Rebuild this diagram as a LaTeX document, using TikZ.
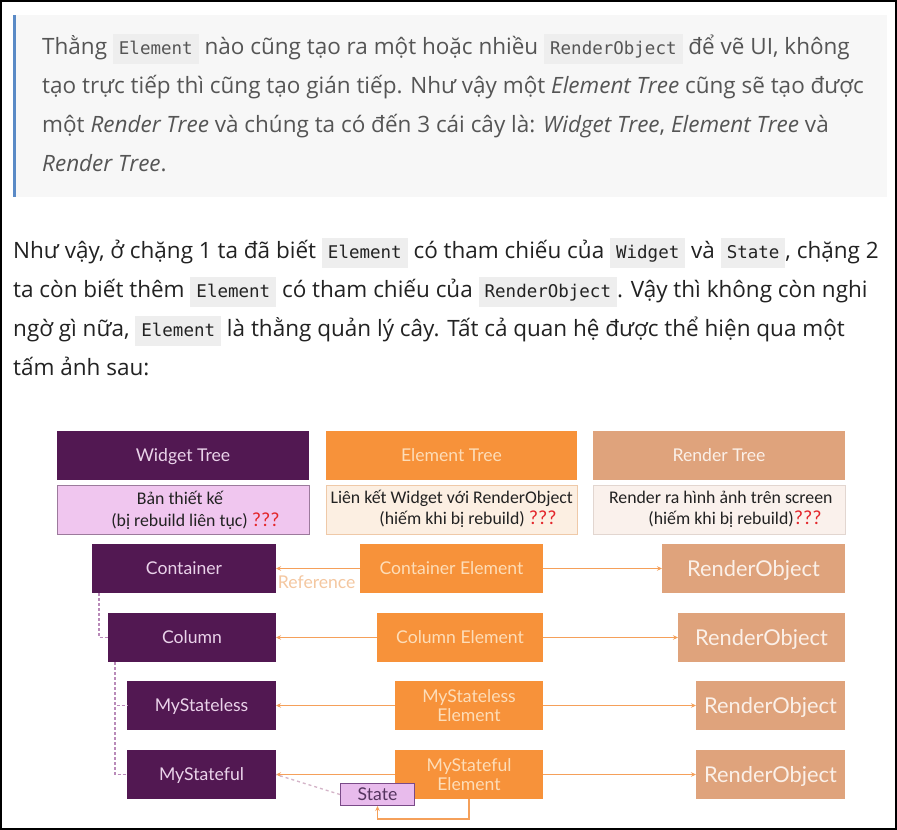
\documentclass[tikz,border=0pt]{standalone}
\usepackage{fontspec}
\setmainfont{Open Sans}
\newfontfamily\codefont{DejaVu Sans Mono}
\newfontfamily\diagfont{Lato}
\newfontfamily\calfont{Carlito}
\usetikzlibrary{arrows.meta}
\definecolor{quotebg}{HTML}{F7F7F7}
\definecolor{quotebar}{HTML}{5A8AC6}
\definecolor{codebg}{HTML}{EEEEEE}
\definecolor{quotetxt}{HTML}{555555}
\definecolor{bodytxt}{HTML}{222222}
\definecolor{wpurple}{HTML}{521852}
\definecolor{wtext}{HTML}{EAD3EA}
\definecolor{eorange}{HTML}{F7923A}
\definecolor{etext}{HTML}{FDDDB8}
\definecolor{rtan}{HTML}{DFA37C}
\definecolor{rtext}{HTML}{FBF0E8}
\definecolor{pinkbox}{HTML}{F0C6EF}
\definecolor{pinkborder}{HTML}{9C7A9C}
\definecolor{creambox}{HTML}{FCEFE2}
\definecolor{creamborder}{HTML}{EFC9A8}
\definecolor{rbox}{HTML}{FAF1EC}
\definecolor{rborder}{HTML}{E2D6D0}
\definecolor{arrowc}{HTML}{F5A05A}
\definecolor{dashc}{HTML}{B98AB9}
\definecolor{statefill}{HTML}{E8BBEC}
\definecolor{stateborder}{HTML}{7A4A88}
\definecolor{statedashc}{HTML}{D4B4C8}
\definecolor{qred}{HTML}{E3262B}
\definecolor{reftext}{HTML}{F4C7A0}
\newcommand\mycode[1]{{\setlength\fboxsep{0pt}\colorbox{codebg}{\rule[-9pt]{0pt}{30pt}\hspace{6pt}{\codefont\fontsize{17.5}{20}\selectfont #1}\hspace{6pt}}}}
\newcommand\qq{{\color{qred}\fontsize{20}{20}\selectfont ???}}
\tikzset{
  qline/.style={anchor=base west, inner sep=0pt, text=quotetxt, font=\fontsize{22.5}{25}\selectfont},
  pline/.style={anchor=base west, inner sep=0pt, text=bodytxt, font=\fontsize{22.5}{25}\selectfont},
  box/.style={anchor=north west, inner sep=0pt, outer sep=0pt, minimum height=49pt, align=center, text depth=0pt, font=\diagfont\fontsize{17.6}{19.5}\selectfont},
  wbox/.style={box, fill=wpurple, text=wtext},
  ebox/.style={box, fill=eorange, text=etext},
  rbx/.style={box, fill=rtan, text=rtext, font=\diagfont\fontsize{21.8}{24}\selectfont},
  desc/.style={anchor=base, inner sep=0pt, text=bodytxt, font=\calfont\fontsize{17.8}{20}\selectfont},
  arr/.style={draw=arrowc, line width=1.4pt, -{Stealth[length=5pt,width=4.5pt]}},
  treedash/.style={draw=dashc, line width=1.3pt, dashed, dash pattern=on 3pt off 2pt},
}
\begin{document}
\begin{tikzpicture}[x=1pt,y=-1pt]
\useasboundingbox (0,0) rectangle (897,830);
\fill[white] (0,0) rectangle (897,830);
% quote block
\fill[quotebg] (13,15) rectangle (887,197);
\fill[quotebar] (13,15) rectangle (16,197);
\node[qline] (q1) at (42,54.7) {Thằng \mycode{Element} nào cũng tạo ra một hoặc nhiều \mycode{RenderObject} để vẽ UI, không};
\node[qline] (q2) at (42,93.7) {tạo trực tiếp thì cũng tạo gián tiếp. Như vậy một \textit{Element Tree} cũng sẽ tạo được};
\node[qline] (q3) at (42,132.7) {một \textit{Render Tree} và chúng ta có đến 3 cái cây là: \textit{Widget Tree}, \textit{Element Tree} và};
\node[qline] (q4) at (42,171.7) {\textit{Render Tree}.};
% paragraph
\node[pline] (p1) at (13,258.7) {Như vậy, ở chặng 1 ta đã biết \mycode{Element} có tham chiếu của \mycode{Widget} và \mycode{State}, chặng 2};
\node[pline] (p2) at (13,297.7) {ta còn biết thêm \mycode{Element} có tham chiếu của \mycode{RenderObject}. Vậy thì không còn nghi};
\node[pline] (p3) at (13,336.7) {ngờ gì nữa, \mycode{Element} là thằng quản lý cây. Tất cả quan hệ được thể hiện qua một};
\node[pline] (p4) at (13,375.7) {tấm ảnh sau:};
% headers
\node[wbox, minimum width=252pt] (wt) at (57,431) {Widget Tree};
\node[ebox, minimum width=251pt] (et) at (326,431) {Element Tree};
\node[box, fill=rtan, text=rtext, minimum width=252pt] (rt) at (593,431) {Render Tree};
% description boxes
\node[box, fill=pinkbox, draw=pinkborder, line width=1pt, minimum width=252pt] (wd) at (57,485) {};
\node[box, fill=creambox, draw=creamborder, line width=1pt, minimum width=251pt] (ed) at (326,485) {};
\node[box, fill=rbox, draw=rborder, line width=1pt, minimum width=252pt] (rd) at (593,485) {};
\node[desc] (wd1) at (180,504.5) {Bản thiết kế};
\node[desc] (wd2) at (195.5,526) {(bị rebuild liên tục) \qq};
\node[desc] (ed1) at (451.7,503.5) {Liên kết Widget với RenderObject};
\node[desc] (ed2) at (468,524.5) {(hiếm khi bị rebuild) \qq};
\node[desc] (rd1) at (720.8,503.5) {Render ra hình ảnh trên screen};
\node[desc] (rd2) at (735,524.5) {(hiếm khi bị rebuild)\qq};
% widget column
\node[wbox, minimum width=184pt] (c) at (92,544) {Container};
\node[wbox, minimum width=168pt] (col) at (108,613) {Column};
\node[wbox, minimum width=149pt] (msl) at (127,681) {MyStateless};
\node[wbox, minimum width=149pt] (msf) at (127,750) {MyStateful};
% element column
\node[ebox, minimum width=183pt] (ce) at (360,544) {Container Element};
\node[ebox, minimum width=166pt] (cole) at (377,613) {Column Element};
\node[ebox, minimum width=148pt] (msle) at (395,681) {MyStateless\\Element};
\node[ebox, minimum width=148pt] (msfe) at (395,750) {MyStateful\\Element};
% render column
\node[rbx, minimum width=183pt] (r1) at (662,544) {RenderObject};
\node[rbx, minimum width=167pt] (r2) at (678,613) {RenderObject};
\node[rbx, minimum width=149pt] (r3) at (696,681) {RenderObject};
\node[rbx, minimum width=149pt] (r4) at (696,750) {RenderObject};
% state
\node[anchor=north west, inner sep=0pt, minimum width=74pt, minimum height=22pt, text depth=0pt, fill=statefill, draw=stateborder, line width=1pt, text=stateborder!70!black, font=\diagfont\fontsize{17.6}{19}\selectfont] (st) at (340,783) {State};
% arrows
\draw[arr] (ce.west) -- (c.east);
\draw[arr] (cole.west) -- (col.east);
\draw[arr] (msle.west) -- (msl.east);
\draw[arr] (msfe.west) -- (msf.east);
\draw[arr] (ce.east) -- (r1.west);
\draw[arr] (cole.east) -- (r2.west);
\draw[arr] (msle.east) -- (r3.west);
\draw[arr] (msfe.east) -- (r4.west);
\node[anchor=base, inner sep=0pt, text=reftext, font=\diagfont\fontsize{17.6}{19}\selectfont] (ref) at (316.7,588) {Reference};
% tree dashes
\draw[treedash] ([xshift=7pt]c.south west) |- (col.west);
\draw[treedash] ([xshift=7pt]col.south west) |- (msl.west);
\draw[treedash] ([xshift=7pt]col.south west) |- (msf.west);
\draw[draw=statedashc, line width=1.3pt, dashed] (st.west) -- (msf.east);
\draw[arr] (msfe.south) -- ++(0,20) -| (st.south);
% frame
\draw[black, line width=2.2pt] (1.1,1.1) rectangle (895.9,828.9);
\end{tikzpicture}
\end{document}
